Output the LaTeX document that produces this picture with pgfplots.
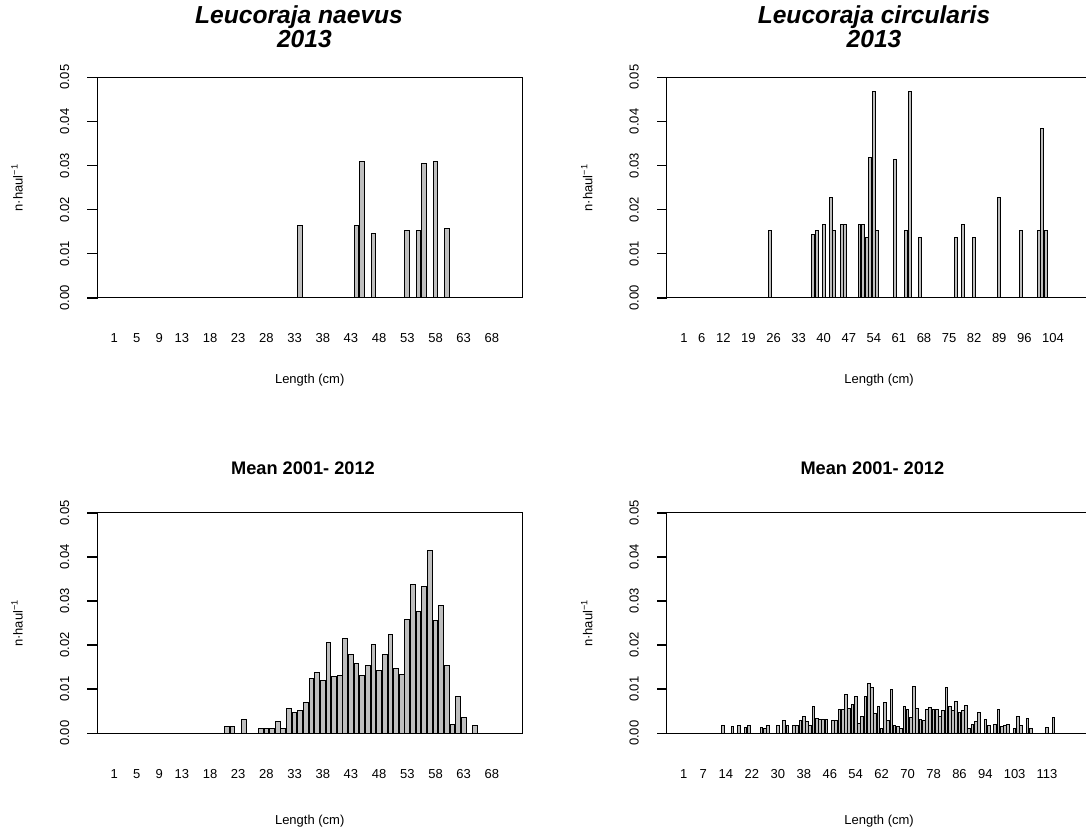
\documentclass[border=0pt]{standalone}
\usepackage{fontspec}
\setmainfont{Liberation Sans}
\usepackage{pgfplots}
\pgfplotsset{compat=1.18}
\definecolor{barfill}{HTML}{BEBEBE}
\pgfplotsset{
 rbar/.style={
  scale only axis, height=110.2pt, anchor=south west,
  ymin=0, ymax=0.05,
  ytick={0,0.01,0.02,0.03,0.04,0.05},
  yticklabels={0.00,0.01,0.02,0.03,0.04,0.05},
  scaled y ticks=false,
  axis line style={line width=0.5pt},
  ytick pos=left, xtick pos=left,
  major tick length=0pt,
  xtick=\empty,
  extra x tick style={xticklabel shift=14.4pt},
  ticklabel style={font=\fontsize{6.5}{7}\selectfont},
  yticklabel style={rotate=90, anchor=south},
  yticklabel shift=10.5pt,
  /pgf/number format/assume math mode=true,
  ybar, bar width=0.8333,
 },
 rleft/.style={rbar, width=212.5pt, xmin=-2.0, xmax=73.4},
 rright/.style={rbar, width=209.65pt, axis lines*=left},
 rb/.style={fill=barfill, draw=black, line width=0.5pt},
}
\begin{document}
\begin{tikzpicture}
\useasboundingbox (0,0) rectangle (543pt,-415.5pt);
% top left
\begin{axis}[rleft, at={(48.65pt,-148.85pt)},
  extra x ticks={1,5,9,13,18,23,28,33,38,43,48,53,58,63,68}]
\addplot[rb] coordinates {(34,0.0163) (44,0.0163) (45,0.0310) (47,0.0146) (53,0.0152) (55,0.0152) (56,0.0304) (58,0.0310) (60,0.0157)};
\end{axis}
% top right
\begin{axis}[rright, at={(333.35pt,-148.85pt)}, xmin=-3.81, xmax=113.22,
  extra x ticks={1,6,12,19,26,33,40,47,54,61,68,75,82,89,96,104}]
\addplot[rb] coordinates {(25,0.0152) (37,0.0144) (38,0.0152) (40,0.0166) (42,0.0227) (43,0.0152) (45,0.0166) (46,0.0166) (50,0.0166) (51,0.0166) (52,0.0136) (53,0.0318) (54,0.0467) (55,0.0152) (60,0.0313) (63,0.0152) (64,0.0467) (67,0.0136) (77,0.0136) (79,0.0166) (82,0.0136) (89,0.0227) (95,0.0152) (100,0.0152) (101,0.0384) (102,0.0152)};
\end{axis}
% bottom left
\begin{axis}[rleft, at={(48.65pt,-366.65pt)},
  extra x ticks={1,5,9,13,18,23,28,33,38,43,48,53,58,63,68}]
\addplot[rb] coordinates {(21,0.0015) (22,0.0015) (24,0.0032) (27,0.0012) (28,0.0012) (29,0.0012) (30,0.0026) (31,0.0012) (32,0.0056) (33,0.0048) (34,0.0051) (35,0.0070) (36,0.0125) (37,0.0137) (38,0.0120) (39,0.0205) (40,0.0128) (41,0.0131) (42,0.0214) (43,0.0178) (44,0.0159) (45,0.0131) (46,0.0153) (47,0.0202) (48,0.0142) (49,0.0178) (50,0.0224) (51,0.0147) (52,0.0134) (53,0.0258) (54,0.0338) (55,0.0277) (56,0.0332) (57,0.0415) (58,0.0255) (59,0.0291) (60,0.0153) (61,0.0020) (62,0.0084) (63,0.0037) (65,0.0017)};
\end{axis}
% bottom right
\begin{axis}[rright, at={(333.35pt,-366.65pt)}, xmin=-4.27, xmax=125.01,
  extra x ticks={1,7,14,22,30,38,46,54,62,70,78,86,94,103,113}]
\addplot[rb] coordinates {(13,0.0017) (16,0.0015) (18,0.0017) (20,0.0014) (21,0.0017) (25,0.0014) (26,0.0012) (27,0.0017) (30,0.0017) (32,0.0029) (33,0.0017) (35,0.0017) (36,0.0017) (37,0.0029) (38,0.0039) (39,0.0026) (40,0.0017) (41,0.0061) (42,0.0034) (43,0.0032) (44,0.0031) (45,0.0032) (47,0.0029) (48,0.0029) (49,0.0053) (50,0.0053) (51,0.0087) (52,0.0057) (53,0.0065) (54,0.0084) (55,0.0023) (56,0.0039) (57,0.0084) (58,0.0112) (59,0.0103) (60,0.0045) (61,0.0061) (62,0.0011) (63,0.0070) (64,0.0029) (65,0.0100) (66,0.0017) (67,0.0015) (68,0.0012) (69,0.0060) (70,0.0054) (71,0.0036) (72,0.0106) (73,0.0056) (74,0.0032) (75,0.0029) (76,0.0053) (77,0.0059) (78,0.0054) (79,0.0054) (80,0.0039) (81,0.0051) (82,0.0103) (83,0.0061) (84,0.0051) (85,0.0073) (86,0.0048) (87,0.0051) (88,0.0064) (89,0.0012) (90,0.0020) (91,0.0026) (92,0.0048) (94,0.0032) (95,0.0017) (97,0.0020) (98,0.0054) (99,0.0015) (100,0.0017) (101,0.0020) (103,0.0012) (104,0.0039) (105,0.0017) (107,0.0034) (108,0.0012) (113,0.0014) (115,0.0036)};
\end{axis}
% top lines of the right panels (their right edge lies beyond the page)
\draw[line width=0.5pt] (333.35pt,-38.65pt) -- (543pt,-38.65pt);
\draw[line width=0.5pt] (333.35pt,-256.45pt) -- (543pt,-256.45pt);
% y tick marks
\foreach \ax/\ay in {48.65/-148.85, 333.35/-148.85, 48.65/-366.65, 333.35/-366.65}{
  \foreach \k in {0,...,5}{
    \draw[line width=0.8pt, black] ({\ax*1pt+0.25pt},{\ay*1pt+\k*22.04pt}) -- ++(-5.25pt,0pt);
  }
}
% titles
\begin{scope}[font=\fontsize{12.3}{14}\selectfont\bfseries\itshape]
\node[anchor=base] at (149.5pt,-11.85pt) {Leucoraja naevus};
\node[anchor=base] at (152.2pt,-23.85pt) {2013};
\node[anchor=base] at (437pt,-11.85pt) {Leucoraja circularis};
\node[anchor=base] at (437pt,-23.85pt) {2013};
\end{scope}
\begin{scope}[font=\fontsize{9.1}{11}\selectfont\bfseries]
\node[anchor=base] at (151.5pt,-237.25pt) {Mean 2001- 2012};
\node[anchor=base] at (436.2pt,-237.25pt) {Mean 2001- 2012};
\end{scope}
% axis labels
\begin{scope}[font=\fontsize{6.5}{7}\selectfont]
\node at (154.85pt,-190pt) {Length (cm)};
\node at (439.55pt,-190pt) {Length (cm)};
\node at (154.85pt,-410.5pt) {Length (cm)};
\node at (439.55pt,-410.5pt) {Length (cm)};
\node[rotate=90] at (8.5pt,-93.75pt) {n·haul\textsuperscript{−1}};
\node[rotate=90] at (293.35pt,-93.75pt) {n·haul\textsuperscript{−1}};
\node[rotate=90] at (8.5pt,-311.55pt) {n·haul\textsuperscript{−1}};
\node[rotate=90] at (293.35pt,-311.55pt) {n·haul\textsuperscript{−1}};
\end{scope}
\end{tikzpicture}
\end{document}
